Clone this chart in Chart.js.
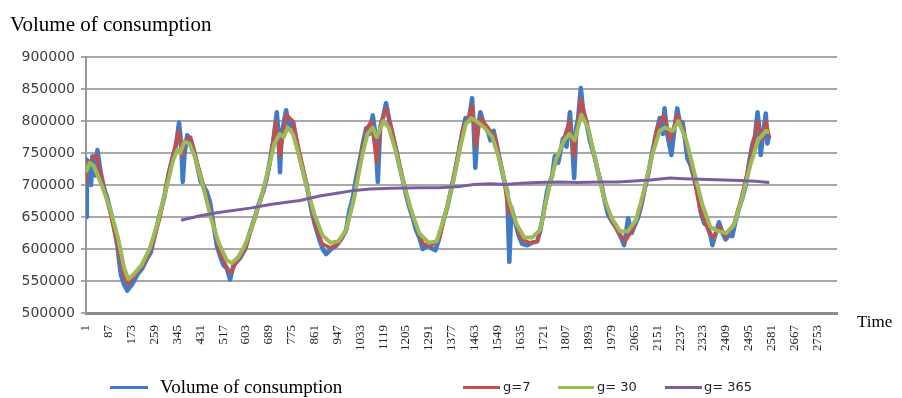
<!DOCTYPE html>
<html>
<head>
<meta charset="utf-8">
<script src="https://cdn.jsdelivr.net/npm/chart.js@4/dist/chart.umd.min.js"></script>
<style>
  html, body { margin: 0; padding: 0; background: #fff; }
  #wrap { position: relative; width: 902px; height: 398px; }
  #c { position: absolute; left: 0; top: 0; }
  .lg-line { position: absolute; height: 3px; }
  .lg-text { position: absolute; white-space: nowrap; color: #000; }
</style>
</head>
<body>
<div id="wrap">
  <canvas id="c" width="902" height="398"></canvas>
  <div class="lg-text" style="left:857px; top:312px; font: 17px 'Liberation Serif', serif;">Time</div>
  <div class="lg-line" style="left:110px; top:386px; width:38px; background:#3f7bc8;"></div>
  <div class="lg-text" style="left:160px; top:376px; font: 19px 'Liberation Serif', serif;">Volume of consumption</div>
  <div class="lg-line" style="left:463px; top:386px; width:37px; background:#c0504d;"></div>
  <div class="lg-text" style="left:503px; top:379px; font: 13px 'DejaVu Sans', sans-serif; color:#222;">g=7</div>
  <div class="lg-line" style="left:558px; top:386px; width:36px; background:#9bbb59;"></div>
  <div class="lg-text" style="left:597px; top:379px; font: 13px 'DejaVu Sans', sans-serif; color:#222;">g= 30</div>
  <div class="lg-line" style="left:665px; top:386px; width:37px; background:#7a5ea0;"></div>
  <div class="lg-text" style="left:704px; top:379px; font: 13px 'DejaVu Sans', sans-serif; color:#222;">g= 365</div>
</div>
<script>
// ---- data ----
const xTickLabels = [1,87,173,259,345,431,517,603,689,775,861,947,1033,1119,1205,1291,1377,1463,1549,1635,1721,1807,1893,1979,2065,2151,2237,2323,2409,2495,2581,2667,2753];
const yTickValues = [500000,550000,600000,650000,700000,750000,800000,850000,900000];

const consumptionT = [1,4,12,20,25,35,44,56,69,81,94,106,119,132,144,156,175,194,213,232,245,257,276,295,313,326,339,351,360,365,372,382,395,408,420,433,455,468,480,493,505,518,531,543,556,568,581,600,618,637,650,668,681,694,706,719,725,731,737,754,766,781,794,806,819,831,850,863,882,892,904,923,942,961,980,992,1005,1017,1030,1043,1055,1067,1080,1090,1099,1108,1118,1130,1143,1155,1168,1180,1193,1206,1218,1231,1243,1256,1268,1287,1306,1316,1329,1341,1360,1379,1391,1404,1416,1429,1441,1454,1460,1466,1475,1485,1498,1510,1523,1535,1548,1560,1573,1586,1594,1602,1617,1630,1642,1661,1680,1699,1711,1724,1736,1755,1765,1778,1796,1809,1822,1830,1838,1846,1853,1863,1872,1884,1897,1916,1928,1941,1953,1966,1985,1997,2010,2026,2041,2054,2066,2079,2091,2104,2116,2129,2141,2160,2172,2178,2189,2204,2216,2226,2237,2246,2254,2264,2277,2289,2302,2314,2327,2339,2352,2358,2371,2383,2396,2408,2421,2433,2446,2459,2471,2484,2496,2509,2518,2528,2534,2540,2549,2559,2565,2572];
const consumptionV = [650000,740000,725000,700000,745000,715000,755000,720000,695000,680000,658000,635000,606000,560000,545000,535000,545000,560000,570000,586000,595000,617000,650000,680000,720000,742000,760000,798000,760000,705000,750000,778000,770000,752000,730000,705000,690000,673000,640000,606000,590000,575000,570000,552000,575000,580000,586000,600000,627000,650000,669000,690000,711000,740000,770000,814000,780000,720000,780000,817000,790000,798000,765000,742000,720000,700000,660000,637000,611000,600000,592000,600000,605000,615000,630000,660000,680000,710000,736000,765000,789000,780000,809000,780000,705000,790000,805000,828000,800000,778000,755000,731000,708000,684000,665000,648000,630000,617000,600000,605000,600000,598000,615000,637000,665000,700000,725000,752000,780000,805000,800000,836000,790000,727000,790000,814000,795000,789000,770000,785000,760000,735000,710000,690000,580000,665000,640000,620000,608000,606000,610000,612000,630000,660000,690000,715000,745000,735000,773000,760000,814000,770000,711000,790000,805000,852000,815000,798000,770000,742000,720000,700000,675000,653000,640000,633000,622000,606000,648000,625000,637000,650000,669000,695000,716000,745000,770000,805000,780000,820000,778000,747000,790000,820000,795000,798000,775000,742000,730000,711000,690000,658000,640000,637000,620000,606000,625000,642000,625000,615000,622000,620000,645000,665000,680000,700000,735000,765000,775000,814000,790000,747000,780000,812000,765000,778000];

const g7T = [1,8,25,40,60,90,120,145,160,190,220,250,280,310,330,350,362,375,395,420,450,480,505,530,545,570,600,630,660,690,715,730,755,780,800,830,860,890,920,950,980,1010,1040,1060,1075,1095,1110,1130,1150,1180,1210,1240,1270,1300,1330,1360,1390,1420,1440,1455,1468,1485,1510,1540,1570,1590,1610,1640,1670,1700,1730,1760,1790,1820,1838,1862,1885,1915,1945,1975,2005,2030,2060,2090,2120,2150,2175,2200,2225,2250,2280,2310,2340,2360,2385,2410,2440,2470,2500,2528,2545,2560,2572];
const g7V = [700000,735000,740000,748000,710000,660000,605000,555000,545000,562000,578000,605000,650000,715000,750000,785000,745000,770000,775000,735000,690000,640000,595000,572000,562000,582000,600000,640000,680000,725000,800000,745000,810000,800000,760000,705000,645000,608000,602000,608000,628000,680000,755000,790000,800000,735000,795000,820000,790000,735000,680000,640000,608000,605000,615000,665000,725000,790000,805000,825000,760000,805000,792000,775000,720000,660000,650000,615000,610000,612000,670000,725000,760000,800000,745000,835000,800000,745000,690000,648000,625000,612000,632000,668000,725000,790000,810000,770000,810000,785000,730000,665000,632000,618000,635000,620000,640000,685000,740000,800000,770000,800000,775000];

const g30T = [1,15,30,60,90,120,145,160,180,210,240,270,300,330,345,355,372,390,410,440,470,500,530,550,575,600,630,660,690,710,730,745,760,780,800,830,860,890,920,950,980,1010,1040,1060,1080,1095,1120,1140,1165,1195,1225,1255,1290,1320,1350,1380,1410,1430,1450,1470,1500,1530,1560,1590,1620,1650,1680,1710,1740,1770,1800,1820,1840,1865,1890,1920,1950,1980,2010,2040,2070,2100,2130,2160,2180,2210,2230,2260,2290,2320,2350,2380,2410,2440,2470,2500,2530,2560,2572];
const g30V = [720000,735000,730000,700000,665000,620000,570000,553000,560000,575000,600000,640000,690000,740000,755000,750000,768000,765000,745000,700000,650000,610000,583000,578000,588000,607000,640000,680000,730000,765000,780000,775000,790000,780000,750000,700000,655000,622000,610000,612000,630000,680000,745000,780000,790000,775000,800000,790000,755000,705000,660000,625000,610000,612000,650000,700000,760000,795000,805000,800000,790000,775000,735000,680000,640000,618000,618000,630000,690000,740000,770000,780000,770000,810000,790000,735000,680000,648000,628000,628000,645000,690000,745000,785000,790000,785000,800000,770000,720000,670000,635000,628000,625000,638000,680000,730000,770000,785000,782000];

const g365T = [359,430,500,618,700,806,880,957,1000,1070,1150,1258,1330,1409,1460,1522,1580,1635,1700,1785,1850,1936,2000,2049,2124,2199,2250,2312,2400,2463,2520,2572];
const g365V = [645000,652000,657000,664000,670000,676000,683000,688000,691000,694000,695000,696000,696000,698000,701000,702000,701000,703000,704000,705000,704000,705000,705000,706000,708000,711000,710000,709000,708000,707000,706000,704000];

function pts(t, v) { return t.map((x, i) => ({ x: x, y: v[i] })); }

const gridColor = '#a9a9a9';

new Chart(document.getElementById('c'), {
  type: 'line',
  data: {
    datasets: [
      { label: 'Volume of consumption', data: pts(consumptionT, consumptionV), borderColor: '#3f7bc8', borderWidth: 4.5, order: 4 },
      { label: 'g=7', data: pts(g7T, g7V), borderColor: '#c0504d', borderWidth: 3.5, order: 3 },
      { label: 'g= 30', data: pts(g30T, g30V), borderColor: '#9bbb59', borderWidth: 4, order: 2 },
      { label: 'g= 365', data: pts(g365T, g365V), borderColor: '#7a5ea0', borderWidth: 3, order: 1 }
    ]
  },
  options: {
    responsive: false,
    animation: false,
    events: [],
    elements: { point: { radius: 0 }, line: { tension: 0, borderJoinStyle: 'round' } },
    layout: { padding: { left: 10, right: 65, top: 0, bottom: 40 } },
    plugins: {
      legend: { display: false },
      tooltip: { enabled: false },
      title: {
        display: true,
        text: 'Volume of consumption',
        align: 'start',
        color: '#000',
        font: { family: "'Liberation Serif', serif", size: 21, weight: 'normal' },
        padding: { top: 13, bottom: 19 }
      }
    },
    scales: {
      x: {
        type: 'linear',
        min: 1,
        max: 2827,
        afterBuildTicks: (s) => { s.ticks = xTickLabels.map(v => ({ value: v })); },
        afterFit: (s) => { s.height = 45; },
        grid: { display: false },
        border: { display: true, color: '#8c8c8c', width: 3 },
        ticks: {
          autoSkip: false,
          minRotation: 90,
          maxRotation: 90,
          padding: 4,
          color: '#222',
          font: { family: "'Liberation Serif', serif", size: 13 },
          callback: (v) => String(v)
        }
      },
      y: {
        min: 500000,
        max: 900000,
        afterBuildTicks: (s) => { s.ticks = yTickValues.map(v => ({ value: v })); },
        afterFit: (s) => { s.width = 76; },
        grid: { color: gridColor, lineWidth: 2, tickLength: 5, tickColor: gridColor },
        border: { display: true, color: '#999', width: 2 },
        ticks: {
          padding: 6,
          color: '#404040',
          font: { family: "'DejaVu Sans', sans-serif", size: 14 },
          callback: (v) => String(v)
        }
      }
    }
  }
});
</script>
</body>
</html>
